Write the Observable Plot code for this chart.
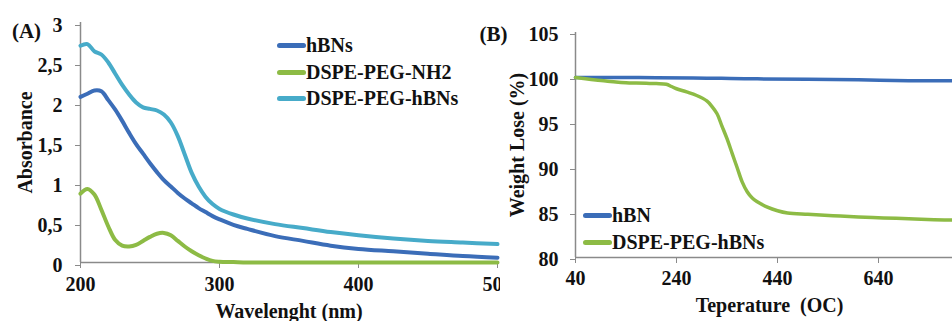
<!DOCTYPE html>
<html>
<head>
<meta charset="utf-8">
<script src="https://cdn.jsdelivr.net/npm/d3@7"></script>
<script src="https://cdn.jsdelivr.net/npm/@observablehq/plot@0.6"></script>
<style>
  html, body { margin: 0; padding: 0; background: #fff; }
  #wrap { position: relative; width: 952px; height: 321px; overflow: hidden; background: #fff;
          font-family: "Liberation Serif", "DejaVu Serif", "Noto Serif", Tinos, serif; font-weight: bold; }
  .panel { position: absolute; top: 0; height: 321px; overflow: hidden; }
  .panel svg { max-width: none !important; display: block; }
  .leg { position: absolute; display: flex; align-items: center; font-size: 20px; line-height: 20px; color: #111; white-space: nowrap; }
  .leg span.bar { display: inline-block; width: 29px; height: 5px; border-radius: 3px; margin-right: 0; }
</style>
</head>
<body>
<div id="wrap">
  <div class="panel" id="pa" style="left:0;width:500px;"></div>
  <div class="panel" id="pb" style="left:470px;width:482px;"></div>
</div>
<script>
// ---------- Panel A: UV-Vis absorbance ----------
const wavelength = [200,205,210,215,220,225,230,235,240,245,250,255,260,265,270,275,280,285,290,295,300,310,320,340,360,380,400,425,450,475,500];
const absHBNs    = [2.07,2.11,2.15,2.14,2.03,1.91,1.77,1.62,1.48,1.36,1.24,1.13,1.03,0.95,0.87,0.80,0.74,0.68,0.63,0.58,0.54,0.47,0.42,0.33,0.27,0.21,0.17,0.14,0.11,0.08,0.06];
const absNH2     = [0.86,0.92,0.85,0.66,0.45,0.28,0.21,0.20,0.22,0.27,0.32,0.36,0.37,0.34,0.27,0.20,0.14,0.09,0.05,0.02,0.01,0.005,0,0,0,0,0,0,0,0,0];
const absPEGhBNs = [2.71,2.73,2.64,2.60,2.50,2.36,2.22,2.10,2.00,1.94,1.92,1.90,1.85,1.75,1.58,1.35,1.12,0.95,0.82,0.73,0.67,0.60,0.55,0.48,0.43,0.38,0.34,0.30,0.27,0.25,0.23];
const seriesA = ["hBNs", "DSPE-PEG-NH2", "DSPE-PEG-hBNs"];
const colorsA = ["#3b6db8", "#8dbb45", "#47abc9"];
const xTicksA = [200, 300, 400, 500];
const yTicksA = [0, 0.5, 1, 1.5, 2, 2.5, 3];
const xDomainA = [200, 500];
const yDomainA = [0, 3];

// ---------- Panel B: TGA ----------
const tempHBN   = [40,100,200,300,400,500,600,700,800];
const weightHBN = [100,100,99.98,99.93,99.85,99.8,99.75,99.65,99.65];
const tempPEG   = [40,60,80,100,120,140,160,180,200,220,230,240,260,280,300,310,320,330,340,350,360,370,380,390,400,420,440,460,500,550,600,650,700,750,800];
const weightPEG = [100,99.85,99.72,99.62,99.5,99.42,99.38,99.35,99.32,99.25,99.0,98.75,98.4,98.0,97.4,96.8,96.0,94.6,93.2,91.6,90.0,88.4,87.3,86.6,86.2,85.6,85.2,84.95,84.8,84.65,84.5,84.4,84.3,84.2,84.15];
const seriesB = ["hBN", "DSPE-PEG-hBNs"];
const colorsB = ["#3b6db8", "#8dbb45"];
const xTicksB = [40, 240, 440, 640];
const yTicksB = [80, 85, 90, 95, 100, 105];
const xDomainB = [40, 840];
const yDomainB = [80, 105];

const FONT = '"Liberation Serif", "DejaVu Serif", "Noto Serif", Tinos, serif';
const AXIS = "#8a8a8a";
const baseStyle = {fontFamily: FONT, fontWeight: "bold", fontSize: "20px", background: "transparent", color: "#111", overflow: "visible"};

const rowsA = [];
seriesA.forEach((s, i) => {
  const vals = [absHBNs, absNH2, absPEGhBNs][i];
  wavelength.forEach((w, j) => rowsA.push({series: s, x: w, y: vals[j]}));
});
const rowsB = [];
tempHBN.forEach((t, j) => rowsB.push({series: seriesB[0], x: t, y: weightHBN[j]}));
tempPEG.forEach((t, j) => rowsB.push({series: seriesB[1], x: t, y: weightPEG[j]}));

const txt = {fill: "#111", fontSize: 20, fontFamily: FONT, fontWeight: "bold", textAnchor: "middle", lineAnchor: "middle"};

const plotA = Plot.plot({
  width: 520, height: 321,
  marginLeft: 80, marginRight: 23, marginTop: 22, marginBottom: 59,
  style: baseStyle,
  x: {domain: xDomainA},
  y: {domain: yDomainA},
  color: {domain: seriesA, range: colorsA},
  marks: [
    Plot.ruleX([xDomainA[0]], {stroke: AXIS, strokeWidth: 1.5}),
    Plot.ruleY([yDomainA[0]], {stroke: AXIS, strokeWidth: 1.5}),
    Plot.axisX({ticks: xTicksA, tickSize: 6, tickPadding: 8, stroke: AXIS, fill: "#111", label: null, fontFamily: FONT}),
    Plot.axisY({ticks: yTicksA, tickSize: 5, tickPadding: 13, dy: 3, stroke: AXIS, fill: "#111", label: null, fontFamily: FONT,
                tickFormat: d => String(d).replace(".", ",")}),
    Plot.line(rowsA, {x: "x", y: "y", z: "series", stroke: "series", strokeWidth: 4, curve: "catmull-rom"}),
    Plot.text(["Absorbance"], {...txt, frameAnchor: "left", dx: -55, rotate: -90}),
    Plot.text(["Wavelenght (nm)"], {...txt, frameAnchor: "bottom", dy: 49}),
    Plot.text(["(A)"], {...txt, frameAnchor: "top-left", dx: -54, dy: 9, fontSize: 21})
  ]
});
document.getElementById("pa").appendChild(plotA);

const plotB = Plot.plot({
  width: 509, height: 321,
  marginLeft: 105, marginRight: 0, marginTop: 32, marginBottom: 64,
  style: baseStyle,
  x: {domain: xDomainB},
  y: {domain: yDomainB},
  color: {domain: seriesB, range: colorsB},
  marks: [
    Plot.ruleX([xDomainB[0]], {stroke: AXIS, strokeWidth: 1.5}),
    Plot.ruleY([yDomainB[0]], {stroke: AXIS, strokeWidth: 1.5}),
    Plot.axisX({ticks: xTicksB, tickSize: 6, tickPadding: 7, stroke: AXIS, fill: "#111", label: null, fontFamily: FONT}),
    Plot.axisY({ticks: yTicksB, tickSize: 5, tickPadding: 12, dy: 2, stroke: AXIS, fill: "#111", label: null, fontFamily: FONT}),
    Plot.line(rowsB, {x: "x", y: "y", z: "series", stroke: "series", strokeWidth: 3.5, curve: "catmull-rom"}),
    Plot.text(["Weight Lose (%)"], {...txt, frameAnchor: "left", dx: -58, rotate: -90}),
    Plot.text(["Teperature  (OC)"], {...txt, frameAnchor: "bottom", dx: -8, dy: 48}),
    Plot.text(["(B)"], {...txt, frameAnchor: "top-left", dx: -82, dy: 2, fontSize: 21})
  ]
});
document.getElementById("pb").appendChild(plotB);

// Legends (inside plot areas)
function legend(names, colors, left, tops) {
  const wrap = document.getElementById("wrap");
  names.forEach((n, i) => {
    const d = document.createElement("div");
    d.className = "leg";
    d.style.left = left + "px";
    d.style.top = (tops[i] - 10) + "px";
    const b = document.createElement("span");
    b.className = "bar";
    b.style.background = colors[i];
    const t = document.createElement("span");
    t.textContent = n;
    d.appendChild(b); d.appendChild(t);
    wrap.appendChild(d);
  });
}
legend(seriesA, colorsA, 277, [45, 72, 98]);
legend(seriesB, colorsB, 583, [215, 242]);
</script>
</body>
</html>
